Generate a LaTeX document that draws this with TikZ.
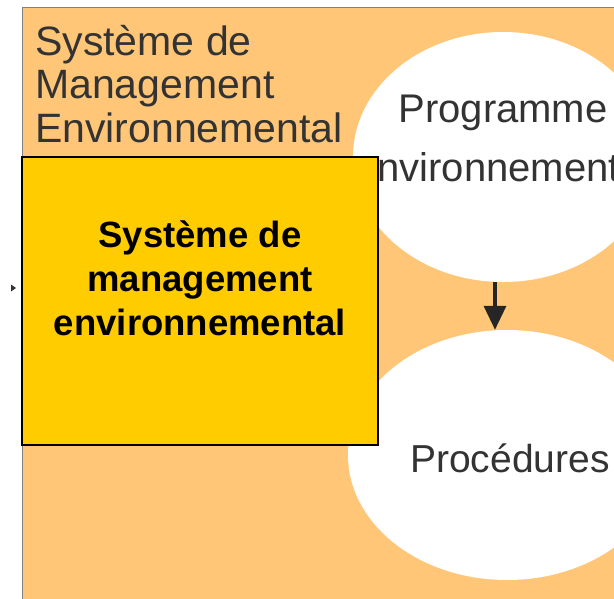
\documentclass[tikz,border=0pt]{standalone}
\usepackage{fontspec}
\setmainfont{Liberation Sans}
\usetikzlibrary{positioning, arrows.meta, shapes.geometric}
\definecolor{SME_Orange}{HTML}{FFC677}
\definecolor{SME_Yellow}{HTML}{FFCC00}
\definecolor{SME_Text}{HTML}{333333}

\begin{document}
\begin{tikzpicture}[x=1pt, y=-1pt,
  arr/.style={-{Triangle[length=24pt, width=22pt]}, line width=3.5pt, black!85},
  bubble/.style={ellipse, fill=white, draw=none, minimum width=#1,
    minimum height=250pt, inner sep=0pt},
  txt/.style={text=SME_Text, inner sep=0pt, align=center,
    font=\fontsize{40pt}{59pt}\selectfont}
]
  \useasboundingbox (0,0) rectangle (614,598);
  \clip (0,0) rectangle (614,598);

  % Background frame
  \draw[fill=SME_Orange, draw=gray, line width=1pt] (22,7) rectangle (660,660);
  \node[txt, anchor=west, align=left, font=\fontsize{41pt}{43.5pt}\selectfont]
    (title) at (35,84) {Système de\\Management\\Environnemental};

  % Ellipses
  \node[bubble=300pt] (prog) at (503,157) {};
  \node[txt] (progtxt) at (503,138) {Programme\\environnemental};
  \node[bubble=318pt] (proc) at (507,455) {};
  \node[txt, font=\fontsize{39pt}{47pt}\selectfont] (proctxt) at (510,458) {Procédures};

  % Arrow between ellipses
  \coordinate (arrtop) at ([xshift=-8pt]prog.south);
  \draw[arr] (arrtop) -- (arrtop |- proc.north);

  % Main box
  \node[draw=black, line width=2pt, fill=SME_Yellow, minimum width=356pt,
    minimum height=288pt, inner sep=0pt] (sme) at (200,301) {};
  \node[align=center, inner sep=0pt, font=\bfseries\fontsize{36.5pt}{44pt}\selectfont]
    (smetxt) at (200,278) {Système de\\management\\environnemental};

  % Incoming arrow head (left)
  \fill[black!80] (11,284.5) -- (16,288) -- (11,291.5) -- cycle;
\end{tikzpicture}
\end{document}
